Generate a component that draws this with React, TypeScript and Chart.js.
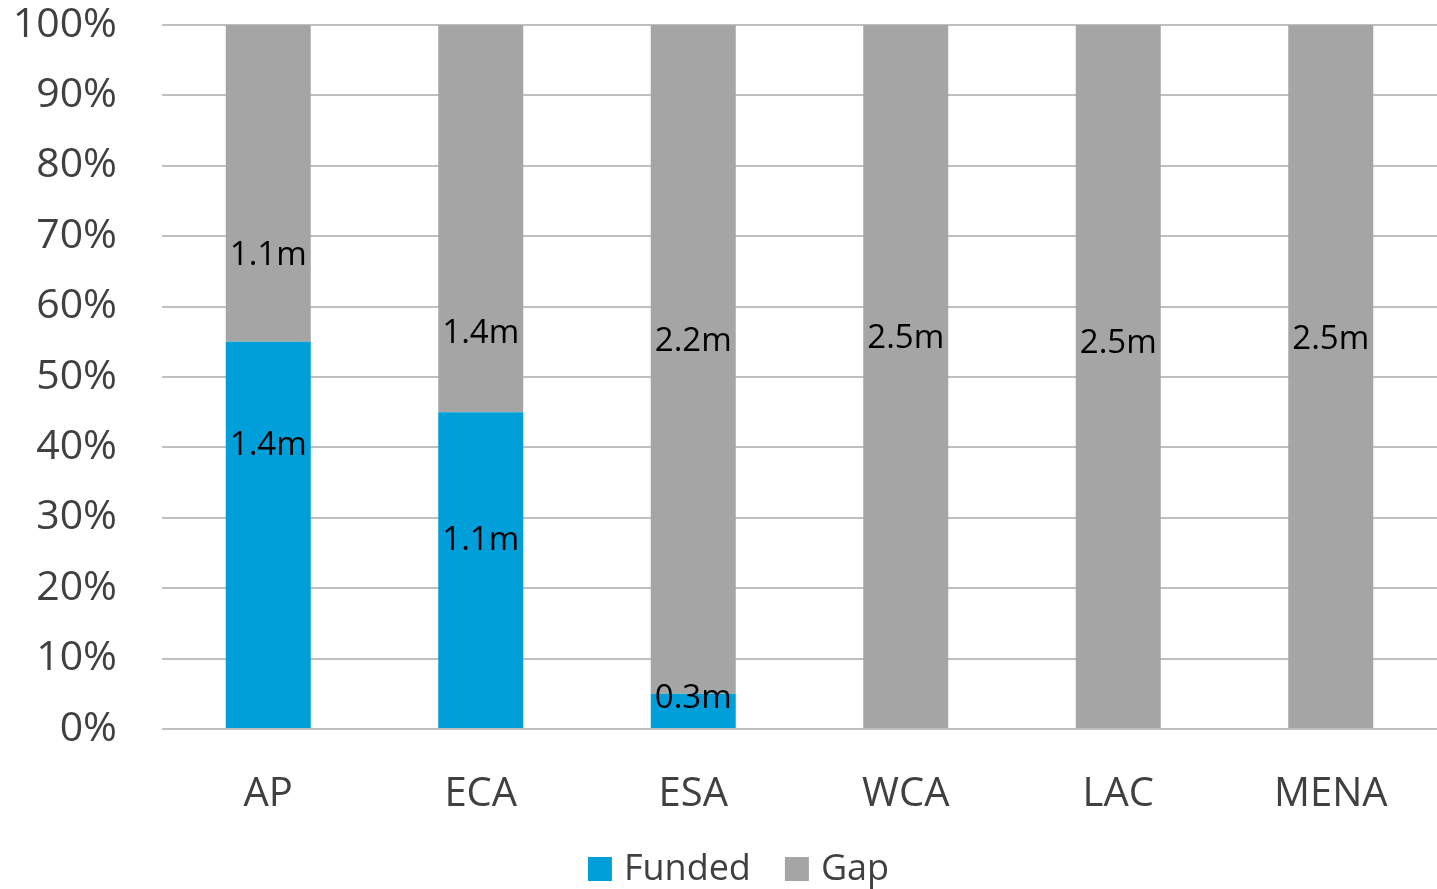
import React, { useEffect, useRef } from "react";
import { Chart, registerables } from "chart.js";

Chart.register(...registerables);

const categories = ["AP", "ECA", "ESA", "WCA", "LAC", "MENA"];
const fundedPct = [55, 45, 5, 0, 0, 0];
const gapPct = [45, 55, 95, 100, 100, 100];
const fundedLabels = ["1.4m", "1.1m", "0.3m", "", "", ""];
const gapLabels = ["1.1m", "1.4m", "2.2m", "2.5m", "2.5m", "2.5m"];
// value (in %) at which each data label sits
const fundedLabelAt = [40.3, 26.8, 4.3, 0, 0, 0];
const gapLabelAt = [67.3, 56.1, 55, 55.4, 54.8, 55.3];
const yTicks = [0, 10, 20, 30, 40, 50, 60, 70, 80, 90, 100];

const FONT = "'Open Sans', 'DejaVu Sans', sans-serif";

const labelPlugin = {
  id: "segLabels",
  afterDatasetsDraw(chart: any) {
    const ctx = chart.ctx;
    const yScale = chart.scales.y;
    const sets = [
      { labels: fundedLabels, at: fundedLabelAt },
      { labels: gapLabels, at: gapLabelAt },
    ];
    ctx.save();
    ctx.font = `33px ${FONT}`;
    ctx.fillStyle = "#000000";
    ctx.textAlign = "center";
    ctx.textBaseline = "middle";
    sets.forEach((s, i) => {
      const meta = chart.getDatasetMeta(i);
      meta.data.forEach((bar: any, j: number) => {
        const t = s.labels[j];
        if (!t) return;
        ctx.fillText(t, bar.x, yScale.getPixelForValue(s.at[j]));
      });
    });
    ctx.restore();
  },
};

const legendPlugin = {
  id: "customLegend",
  afterDraw(chart: any) {
    const ctx = chart.ctx;
    const box = 24;
    const boxGap = 12;
    const itemGap = 34;
    ctx.save();
    ctx.font = `36px ${FONT}`;
    const items = chart.data.datasets.map((d: any) => ({
      text: d.label,
      color: d.backgroundColor,
      w: box + boxGap + ctx.measureText(d.label).width,
    }));
    const total =
      items.reduce((a: number, it: any) => a + it.w, 0) + itemGap * (items.length - 1);
    let x = chart.width / 2 + 20 - total / 2;
    const cy = chart.height - 20;
    ctx.textBaseline = "middle";
    ctx.textAlign = "left";
    items.forEach((it: any) => {
      ctx.fillStyle = it.color;
      ctx.fillRect(x, cy - box / 2, box, box);
      ctx.fillStyle = "#404040";
      ctx.fillText(it.text, x + box + boxGap, cy + 1);
      x += it.w + itemGap;
    });
    ctx.restore();
  },
};

export default function App() {
  const ref = useRef<HTMLCanvasElement | null>(null);
  useEffect(() => {
    document.body.style.margin = "0";
    const canvas = ref.current!;
    const chart = new Chart(canvas, {
      type: "bar",
      data: {
        labels: categories,
        datasets: [
          {
            label: "Funded",
            data: fundedPct,
            backgroundColor: "#009FDA",
            borderWidth: 0,
            categoryPercentage: 0.4,
            barPercentage: 1,
          },
          {
            label: "Gap",
            data: gapPct,
            backgroundColor: "#A5A5A5",
            borderWidth: 0,
            categoryPercentage: 0.4,
            barPercentage: 1,
          },
        ],
      },
      options: {
        animation: false,
        responsive: false,
        devicePixelRatio: 1,
        layout: { padding: { top: 25, left: 0, right: 0, bottom: 40 } },
        plugins: {
          tooltip: { enabled: false },
          legend: { display: false },
        },
        scales: {
          x: {
            stacked: true,
            grid: { display: false, drawTicks: false },
            border: { display: false },
            ticks: {
              font: { family: FONT, size: 40 },
              color: "#404040",
              padding: 42,
            },
            afterFit(scale: any) {
              scale.height = 120;
            },
          },
          y: {
            stacked: true,
            min: 0,
            max: 100,
            afterBuildTicks(scale: any) {
              scale.ticks = yTicks.map((v) => ({ value: v }));
            },
            grid: { color: "#BFBFBF", lineWidth: 2, drawTicks: false },
            border: { display: false },
            ticks: {
              font: { family: FONT, size: 41 },
              color: "#404040",
              padding: 45,
              callback: (v: any) => `${v}%`,
            },
            afterFit(scale: any) {
              scale.width = 162;
              scale.paddingTop = 25;
              scale.paddingBottom = 25;
            },
          },
        },
      },
      plugins: [labelPlugin, legendPlugin],
    } as any);
    return () => chart.destroy();
  }, []);
  return <canvas ref={ref} width={1437} height={889} style={{ display: "block" }} />;
}
